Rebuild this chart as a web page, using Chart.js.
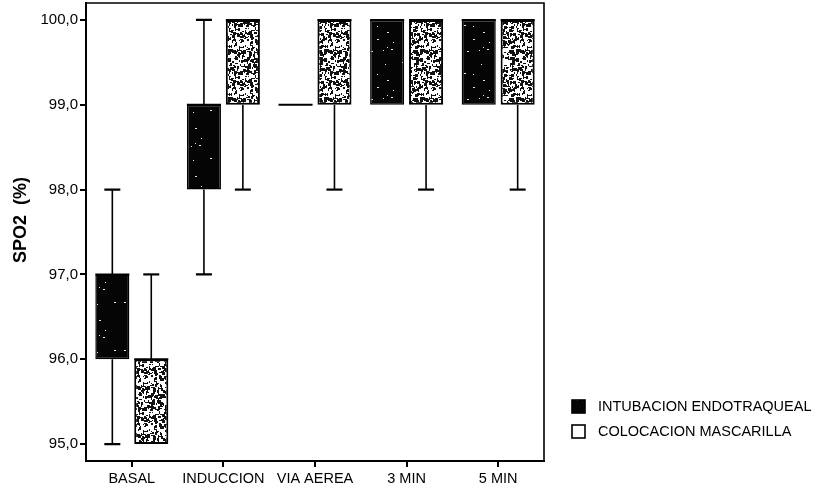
<!DOCTYPE html>
<html>
<head>
<meta charset="utf-8">
<script src="https://cdn.jsdelivr.net/npm/chart.js@4"></script>
<style>
  html, body { margin: 0; padding: 0; background: #fff; }
  #wrap { width: 826px; height: 496px; }
</style>
</head>
<body>
<div id="wrap"><canvas id="c" width="826" height="496"></canvas></div>
<script>
// SpO2 (%) by time point, two airway techniques (box plot summaries)
const categories = ['BASAL', 'INDUCCION', 'VIA AEREA', '3 MIN', '5 MIN'];
const yTicks = [95, 96, 97, 98, 99, 100];

const seriesNames = ['INTUBACION ENDOTRAQUEAL', 'COLOCACION MASCARILLA'];

// Intubación endotraqueal
const intubMin    = [95, 97, 99, 99, 99];
const intubQ1     = [96, 98, 99, 99, 99];
const intubMedian = [97, 99, 99, 100, 100];
const intubQ3     = [97, 99, 99, 100, 100];
const intubMax    = [98, 100, 99, 100, 100];

// Colocación mascarilla
const mascMin    = [95, 98, 98, 98, 98];
const mascQ1     = [95, 99, 99, 99, 99];
const mascMedian = [96, 100, 100, 100, 100];
const mascQ3     = [96, 100, 100, 100, 100];
const mascMax    = [97, 100, 100, 100, 100];

const FONT = "'Liberation Sans', Arial, sans-serif";

// Grainy fill textures (deterministic speckle)
function speckle(base, fleck, count, seed, maxW, maxH) {
  const size = 48;
  const cv = document.createElement('canvas');
  cv.width = size; cv.height = size;
  const g = cv.getContext('2d');
  g.fillStyle = base;
  g.fillRect(0, 0, size, size);
  let s = seed;
  const next = () => { s = (s * 1103515245 + 12345) & 0x7fffffff; return s / 0x7fffffff; };
  g.fillStyle = fleck;
  for (let i = 0; i < count; i++) {
    const x = Math.floor(next() * size);
    const y = Math.floor(next() * size);
    const w = 1 + Math.floor(next() * maxW);
    const h = 1 + Math.floor(next() * maxH);
    g.fillRect(x, y, w, h);
  }
  return g.createPattern(cv, 'repeat');
}
const ctx0 = document.getElementById('c').getContext('2d');
const darkFill = speckle('#050505', '#e8e8e8', 12, 7, 2, 1);
const lightFill = speckle('#ffffff', '#121212', 400, 13, 3, 3);

const boxStats = [
  { min: intubMin, q1: intubQ1, med: intubMedian, q3: intubQ3, max: intubMax },
  { min: mascMin,  q1: mascQ1,  med: mascMedian,  q3: mascQ3,  max: mascMax }
];

// Whiskers, caps and median lines drawn on top of the floating bars
const whiskerPlugin = {
  id: 'whiskers',
  afterDatasetsDraw(chart) {
    const { ctx } = chart;
    const y = chart.scales.y;
    ctx.save();
    ctx.strokeStyle = '#000';
    chart.data.datasets.forEach((ds, di) => {
      const meta = chart.getDatasetMeta(di);
      const st = boxStats[di];
      meta.data.forEach((el, i) => {
        const x = el.x;
        const half = el.width / 2;
        const pMin = y.getPixelForValue(st.min[i]);
        const pMax = y.getPixelForValue(st.max[i]);
        const pQ1 = y.getPixelForValue(st.q1[i]);
        const pQ3 = y.getPixelForValue(st.q3[i]);
        const pMed = y.getPixelForValue(st.med[i]);
        const cap = 8;
        ctx.lineWidth = 1.6;
        ctx.beginPath();
        if (st.max[i] > st.q3[i]) {
          ctx.moveTo(x, pQ3); ctx.lineTo(x, pMax);
        }
        if (st.min[i] < st.q1[i]) {
          ctx.moveTo(x, pQ1); ctx.lineTo(x, pMin);
        }
        ctx.stroke();
        ctx.lineWidth = 2.2;
        ctx.beginPath();
        if (st.max[i] > st.q3[i]) { ctx.moveTo(x - cap, pMax); ctx.lineTo(x + cap, pMax); }
        if (st.min[i] < st.q1[i]) { ctx.moveTo(x - cap, pMin); ctx.lineTo(x + cap, pMin); }
        ctx.stroke();
        // median
        ctx.lineWidth = 2;
        ctx.beginPath();
        ctx.moveTo(x - half, pMed); ctx.lineTo(x + half, pMed);
        ctx.stroke();
      });
    });
    ctx.restore();
  }
};

// Frame, axis title and legend
const decorPlugin = {
  id: 'decor',
  afterDraw(chart) {
    const { ctx, chartArea: a } = chart;
    ctx.save();
    ctx.strokeStyle = '#000';
    ctx.lineWidth = 1.6;
    ctx.beginPath();
    ctx.moveTo(a.left, a.top); ctx.lineTo(a.right, a.top); ctx.lineTo(a.right, a.bottom);
    ctx.stroke();

    // y axis title
    ctx.fillStyle = '#000';
    ctx.font = 'bold 18px ' + FONT;
    ctx.textAlign = 'center';
    ctx.textBaseline = 'middle';
    ctx.translate(21, 220);
    ctx.rotate(-Math.PI / 2);
    ctx.fillText('SPO2  (%)', 0, 0);
    ctx.restore();

    // legend
    ctx.save();
    const lx = 572, ly = [400, 425];
    const fills = [darkFill, '#ffffff'];
    chart.data.datasets.forEach((ds, i) => {
      ctx.fillStyle = fills[i];
      ctx.fillRect(lx, ly[i], 13, 13);
      ctx.strokeStyle = '#000';
      ctx.lineWidth = 1.6;
      ctx.strokeRect(lx, ly[i], 13, 13);
      ctx.fillStyle = '#000';
      ctx.font = '14.5px ' + FONT;
      ctx.textAlign = 'left';
      ctx.textBaseline = 'middle';
      ctx.fillText(ds.label, lx + 26, ly[i] + 7);
    });
    ctx.restore();
  }
};

const toRange = (lo, hi) => lo.map((v, i) => [v, hi[i]]);

new Chart(ctx0, {
  type: 'bar',
  data: {
    labels: categories,
    datasets: [
      {
        label: seriesNames[0],
        data: toRange(intubQ1, intubQ3),
        backgroundColor: darkFill,
        borderColor: '#000',
        borderWidth: 1.5,
        borderSkipped: false,
        categoryPercentage: 0.85,
        barPercentage: 0.875
      },
      {
        label: seriesNames[1],
        data: toRange(mascQ1, mascQ3),
        backgroundColor: lightFill,
        borderColor: '#000',
        borderWidth: 2,
        borderSkipped: false,
        categoryPercentage: 0.85,
        barPercentage: 0.875
      }
    ]
  },
  options: {
    responsive: false,
    devicePixelRatio: 1,
    animation: false,
    layout: { padding: { top: 3, right: 282, bottom: 0, left: 0 } },
    plugins: {
      legend: { display: false },
      tooltip: { enabled: false }
    },
    scales: {
      x: {
        offset: true,
        grid: { display: true, drawOnChartArea: false, drawTicks: true, tickLength: 6, offset: false, color: '#000', lineWidth: 2 },
        border: { display: true, color: '#000', width: 2 },
        ticks: { color: '#000', font: { family: FONT, size: 14.5 }, padding: 3, maxRotation: 0, autoSkip: false },
        afterFit(s) { s.height = 35; s.paddingLeft = 0; s.paddingRight = 0; }
      },
      y: {
        min: 94.8,
        max: 100.2,
        afterBuildTicks(s) { s.ticks = yTicks.map(v => ({ value: v })); },
        grid: { display: true, drawOnChartArea: false, drawTicks: true, tickLength: 6, color: '#000', lineWidth: 2 },
        border: { display: true, color: '#000', width: 2 },
        ticks: {
          color: '#000',
          font: { family: FONT, size: 15 },
          padding: 2,
          callback: v => v.toFixed(1).replace('.', ',')
        },
        afterFit(s) { s.width = 86; s.paddingTop = 0; s.paddingBottom = 0; }
      }
    }
  },
  plugins: [whiskerPlugin, decorPlugin]
});
</script>
</body>
</html>
